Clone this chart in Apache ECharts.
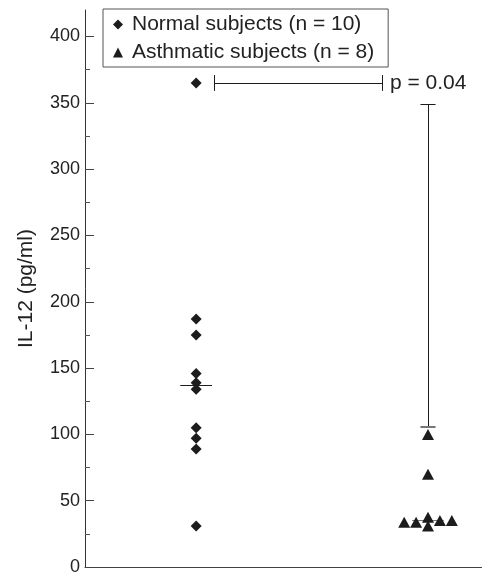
<!DOCTYPE html>
<html lang="en">
<head>
    <meta charset="UTF-8">
    <title>IL-12</title>
    <script src="https://cdn.jsdelivr.net/npm/echarts@6/dist/echarts.min.js"></script>
    <style>
        html, body { margin: 0; padding: 0; background: #fff; }
        #chart { width: 482px; height: 576px; }
    </style>
</head>
<body>
<div id="chart"></div>
<script>
    // data
    let groupNames = ['Normal subjects (n = 10)', 'Asthmatic subjects (n = 8)'];
    let groupX = [2.8, 8.64];
    let normalValues = [365, 187, 175, 146, 139, 134, 105, 97, 89, 31];
    let asthmaValues = [100, 70, 33.8, 33.8, 37.6, 31, 35, 35];
    let asthmaJitter = [0, 0, -0.6, -0.3, 0, 0, 0.3, 0.6];
    let medians = [137, 35];
    let errorBar = [106, 349];
    let bracketValue = 365;
    let bracketX = [3.25, 7.48];
    let pText = 'p = 0.04';
    let tickValues = [0, 50, 100, 150, 200, 250, 300, 350, 400];
    let minorTickValues = [25, 75, 125, 175, 225, 275, 325, 375];

    let chart = echarts.init(document.getElementById('chart'));
    let font = '"Liberation Sans", Arial, sans-serif';
    let ink = '#1c1c1c';

    let seg = function (x1, y1, x2, y2, extra) {
        let a = {coord: [x1, y1]};
        let b = {coord: [x2, y2]};
        if (extra) Object.assign(a, extra);
        return [a, b];
    };

    let option = {
        animation: false,
        textStyle: {fontFamily: font},
        grid: {left: 85, right: 0, top: 10, bottom: 7},
        legend: {
            left: 103,
            top: 9,
            orient: 'vertical',
            padding: [5, 14, 4, 10],
            itemGap: 7,
            itemWidth: 10,
            itemHeight: 10,
            borderColor: '#555',
            borderWidth: 1,
            textStyle: {fontSize: 21, color: '#222', fontFamily: font, padding: [0, 0, 0, 4]},
            data: groupNames
        },
        xAxis: {
            type: 'value',
            min: 0,
            max: 10,
            axisLine: {show: true, lineStyle: {color: '#444', width: 1}},
            axisTick: {show: false},
            axisLabel: {show: false},
            splitLine: {show: false}
        },
        yAxis: [{
            type: 'value',
            min: 0,
            max: 420,
            name: 'IL-12 (pg/ml)',
            nameLocation: 'middle',
            nameGap: 48,
            nameTextStyle: {fontSize: 21, color: '#222', fontFamily: font},
            axisLine: {show: true, lineStyle: {color: '#333', width: 1}},
            axisTick: {show: true, inside: true, length: 9, customValues: tickValues, lineStyle: {color: '#444'}},
            axisLabel: {customValues: tickValues, margin: 5, fontSize: 18, color: '#222', fontFamily: font},
            splitLine: {show: false}
        }, {
            type: 'value',
            min: 0,
            max: 420,
            position: 'left',
            offset: 0,
            axisLine: {show: false},
            axisTick: {show: true, inside: true, length: 5, customValues: minorTickValues, lineStyle: {color: '#555'}},
            axisLabel: {show: false},
            splitLine: {show: false}
        }],
        series: [{
            name: groupNames[0],
            type: 'scatter',
            symbol: 'diamond',
            symbolSize: [11, 11],
            itemStyle: {color: ink, opacity: 1},
            z: 3,
            data: normalValues.map(function (v) { return [groupX[0], v]; }),
            markLine: {
                silent: true,
                symbol: 'none',
                z: 4,
                lineStyle: {color: ink, type: 'solid', width: 1},
                label: {show: false},
                data: [
                    seg(groupX[0] - 0.4, medians[0], groupX[0] + 0.4, medians[0]),
                    seg(bracketX[0], bracketValue, bracketX[1], bracketValue, {
                        label: {show: true, position: 'end', distance: 8, formatter: pText,
                            fontSize: 21, color: '#222', fontFamily: font}
                    }),
                    seg(bracketX[0], bracketValue - 6, bracketX[0], bracketValue + 6),
                    seg(bracketX[1], bracketValue - 6, bracketX[1], bracketValue + 6)
                ]
            }
        }, {
            name: groupNames[1],
            type: 'scatter',
            symbol: 'triangle',
            symbolSize: [12, 11],
            itemStyle: {color: ink, opacity: 1},
            z: 3,
            data: asthmaValues.map(function (v, i) { return [groupX[1] + asthmaJitter[i], v]; }),
            markLine: {
                silent: true,
                symbol: 'none',
                z: 1,
                lineStyle: {color: ink, type: 'solid', width: 1},
                label: {show: false},
                data: [
                    seg(groupX[1] - 0.4, medians[1], groupX[1] + 0.4, medians[1], {lineStyle: {color: '#777'}}),
                    seg(groupX[1], errorBar[0], groupX[1], errorBar[1]),
                    seg(groupX[1] - 0.19, errorBar[1], groupX[1] + 0.19, errorBar[1]),
                    seg(groupX[1] - 0.19, errorBar[0], groupX[1] + 0.19, errorBar[0], {lineStyle: {color: '#777', width: 2}})
                ]
            }
        }]
    };
    option && chart.setOption(option);
</script>
</body>
</html>
